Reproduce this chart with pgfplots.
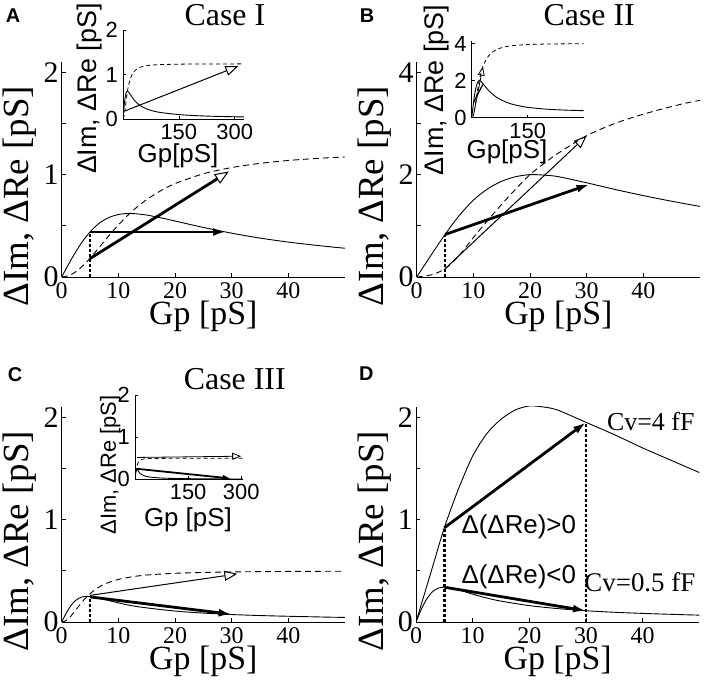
\documentclass[border=0pt]{standalone}
\usepackage{fontspec}
\setmainfont{Liberation Serif}
\setsansfont{Liberation Sans}
\usepackage{pgfplots}
\pgfplotsset{compat=1.18}
\usepackage{pgfplotstable}
\usetikzlibrary{arrows.meta}
\newcommand{\fs}[1]{\fontsize{#1}{#1}\selectfont}

\pgfplotstableread{
x re im
0 0 0
1 0.103 0.009
2 0.201 0.034
3 0.292 0.073
4 0.372 0.124
5 0.440 0.183
6 0.496 0.248
7 0.540 0.315
8 0.572 0.382
9 0.595 0.446
10 0.610 0.508
11 0.618 0.566
12 0.620 0.620
13 0.618 0.670
15 0.605 0.756
17.5 0.578 0.843
20 0.547 0.912
25 0.484 1.008
30 0.428 1.069
35 0.380 1.110
40 0.341 1.138
45 0.309 1.158
50 0.281 1.172
60 0.238 1.192
75 0.193 1.209
100 0.147 1.222
150 0.099 1.232
200 0.074 1.236
250 0.059 1.237
300 0.050 1.238
325 0.046 1.239
}\tabA

\pgfplotstableread{
x re im
0 0 0
2.5 0.42 0.04
5 0.83 0.16
7.5 1.20 0.42
10 1.50 0.77
12.5 1.72 1.10
15 1.87 1.42
17.5 1.96 1.72
20 2.00 2.00
22.5 1.99 2.22
25 1.96 2.42
30 1.84 2.76
35 1.71 3.00
40 1.59 3.18
45 1.48 3.33
50 1.38 3.45
60 1.20 3.60
75 1.00 3.75
100 0.78 3.87
125 0.65 3.92
150 0.56 3.95
200 0.46 3.98
250 0.41 3.99
300 0.38 4.00
}\tabB

\pgfplotstableread{
x re im
0 0 0
0.5 0.055 0.006
1 0.106 0.024
1.5 0.150 0.050
2 0.186 0.083
2.5 0.212 0.118
3 0.231 0.154
3.5 0.243 0.188
4 0.248 0.221
4.5 0.250 0.250
5 0.249 0.276
6 0.240 0.320
7 0.227 0.354
8 0.214 0.380
10 0.187 0.416
12.5 0.158 0.442
15 0.138 0.459
20 0.107 0.476
25 0.087 0.484
30 0.073 0.489
35 0.063 0.492
40 0.056 0.494
45 0.050 0.495
50 0.045 0.496
75 0.030 0.498
100 0.022 0.499
150 0.015 0.500
200 0.011 0.500
250 0.009 0.500
305 0.007 0.500
}\tabC

\pgfplotstableread{
x up
0 0
2.5 0.46
5 0.92
7.5 1.30
10 1.62
12.5 1.84
15 1.98
17.5 2.07
20 2.11
22.5 2.10
25 2.07
30 1.95
35 1.83
40 1.70
45 1.58
50 1.46
}\tabDu

\pgfplotstableread{
x lo
0 0
1 0.131
2 0.234
3 0.300
4 0.332
5 0.340
6 0.334
8 0.306
10 0.272
12.5 0.234
15 0.204
20 0.160
25 0.131
30 0.110
35 0.095
40 0.084
45 0.075
50 0.067
}\tabDl

\pgfplotsset{
  /pgf/number format/assume math mode=true,
  main/.style={
    scale only axis, width=283.3bp, height=215bp, anchor=south west,
    axis lines=left, axis line style={-, line width=0.8bp},
    xmin=0, xmax=50, ymin=0, ymax=2.1,
    tick align=inside, major tick length=4bp, minor tick length=4bp,
    every tick/.style={black, line width=0.7bp},
    xtick={0,10,20,30,40},
    ytick={0,1,2}, minor ytick={0.5,1.5},
    xticklabel style={font=\fs{24}, inner sep=0pt, yshift=-5bp},
    yticklabel style={font=\fs{30}, inner sep=0pt, xshift=-3bp},
    xlabel={Gp [pS]}, ylabel={ΔIm, ΔRe [pS]},
    xlabel style={font=\fs{34}, inner sep=0pt, at={(axis description cs:0.5,-0.182)}, anchor=center},
    ylabel style={font=\fs{37}, inner sep=0pt, at={(axis description cs:-0.147,0.375)}, anchor=center},
    clip mode=individual,
  },
  inset/.style={
    scale only axis, anchor=south west,
    axis lines=left, axis line style={-, line width=0.7bp},
    xmin=0, ymin=0,
    tick align=inside, major tick length=3bp,
    every tick/.style={black, line width=0.6bp},
    xticklabel style={font=\sffamily\fs{22}, inner sep=0pt, yshift=-5bp},
    yticklabel style={font=\sffamily\fs{22}, inner sep=0pt, xshift=-5bp},
    xlabel style={font=\sffamily\fs{26}, inner sep=0pt, anchor=center},
    ylabel style={font=\sffamily\fs{27}, inner sep=0pt, anchor=center},
    clip mode=individual,
  },
  solidc/.style={black, line width=0.9bp, smooth},
  dashc/.style={black, line width=0.9bp, dash pattern=on 6bp off 4bp, smooth},
  dashi/.style={black, line width=0.8bp, dash pattern=on 4bp off 3bp, smooth},
  dotv/.style={black, line width=2.5bp, dash pattern=on 2.5bp off 2.5bp},
  thickF/.style={black, line width=2.8bp, -{Latex[length=13bp,width=8bp]}},
  thickO/.style={black, line width=2.8bp, -{Triangle[open,length=14bp,width=11bp,line width=1bp]}},
  thinO/.style={black, line width=1bp, -{Triangle[open,length=13bp,width=10bp]}},
}

\begin{document}
\begin{tikzpicture}
\useasboundingbox (0,0) rectangle (708bp,694bp);

% ---------- A ----------
\begin{axis}[main, at={(61.7bp,417bp)}]
\addplot[solidc] table[x=x,y=re]{\tabA};
\addplot[dashc] table[x=x,y=im]{\tabA};
\addplot[dotv] coordinates {(5,0) (5,0.44)};
\addplot[thickF] coordinates {(5,0.44) (29,0.44)};
\addplot[thickO] coordinates {(5,0.18) (29.5,1.03)};
\node[font=\fs{32}] at (axis description cs:0.576,1.219) {Case I};
\node[font=\sffamily\bfseries\fs{20}] at (axis description cs:-0.172,1.214) {A};
\end{axis}
\begin{axis}[inset, at={(123bp,575bp)}, width=121bp, height=89bp,
  xmax=325, ymax=2, xtick={150,300}, ytick={0,1,2},
  xlabel={Gp[pS]}, ylabel={ΔIm, ΔRe [pS]},
  xlabel style={at={(axis description cs:0.455,-0.41)}},
  ylabel style={at={(axis description cs:-0.273,0.34)}}]
\addplot[solidc] table[x=x,y=re]{\tabA};
\addplot[dashi] table[x=x,y=im]{\tabA};
\addplot[thinO] coordinates {(5,0.18) (310,1.19)};
\end{axis}

% ---------- B ----------
\begin{axis}[main, at={(416.7bp,417bp)}, ymax=4.2, ytick={0,2,4}, minor ytick={1,3}]
\addplot[solidc] table[x=x,y=re]{\tabB};
\addplot[dashc] table[x=x,y=im]{\tabB};
\addplot[dotv] coordinates {(5,0) (5,0.83)};
\addplot[thickF] coordinates {(5,0.83) (30.5,1.81)};
\addplot[thinO] coordinates {(5,0.16) (30,2.76)};
\node[font=\fs{32}] at (axis description cs:0.609,1.219) {Case II};
\node[font=\sffamily\bfseries\fs{20}] at (axis description cs:-0.175,1.214) {B};
\end{axis}
\begin{axis}[inset, at={(471.7bp,576.3bp)}, width=112bp, height=77bp,
  xmax=300, ymax=4.16, xtick={150}, ytick={0,2,4},
  xlabel={Gp[pS]}, ylabel={ΔIm, ΔRe [pS]},
  xlabel style={at={(axis description cs:0.315,-0.445)}},
  ylabel style={at={(axis description cs:-0.31,0.36)}}]
\addplot[solidc] table[x=x,y=re]{\tabB};
\addplot[dashi] table[x=x,y=im]{\tabB};
\addplot[black, line width=1.2bp] coordinates {(5,0.83) (30,1.8)};
\addplot[black, line width=0.8bp, -{Triangle[open,length=9bp,width=7bp]}] coordinates {(5,0.16) (30,2.76)};
\end{axis}

% ---------- C ----------
\begin{axis}[main, at={(61.7bp,72bp)}]
\addplot[solidc] table[x=x,y=re]{\tabC};
\addplot[dashc] table[x=x,y=im]{\tabC};
\addplot[dotv] coordinates {(5,0) (5,0.25)};
\addplot[thinO] coordinates {(5,0.26) (31,0.47)};
\addplot[thickF] coordinates {(5,0.245) (30,0.075)};
\node[font=\fs{32}] at (axis description cs:0.611,1.13) {Case III};
\node[font=\sffamily\bfseries\fs{20}] at (axis description cs:-0.165,1.149) {C};
\end{axis}
\begin{axis}[inset, at={(135bp,214.7bp)}, width=108bp, height=84bp,
  xmax=305, ymax=2, xtick={150,300}, ytick={0,1,2},
  xlabel={Gp [pS]}, ylabel={ΔIm, ΔRe [pS]},
  xlabel style={at={(axis description cs:0.49,-0.485)}},
  ylabel style={font=\sffamily\fs{22}, at={(axis description cs:-0.23,0.17)}}]
\addplot[solidc] table[x=x,y=re]{\tabC};
\addplot[dashi] table[x=x,y=im]{\tabC};
\addplot[black, line width=0.8bp, -{Triangle[open,length=9bp,width=7bp]}] coordinates {(5,0.52) (300,0.55)};
\addplot[black, line width=1.8bp, -{Latex[length=8bp,width=6bp]}] coordinates {(5,0.25) (270,0.02)};
\end{axis}

% ---------- D ----------
\begin{axis}[main, at={(416bp,72bp)}]
\addplot[solidc] table[x=x,y=up]{\tabDu};
\addplot[solidc] table[x=x,y=lo]{\tabDl};
\addplot[dotv] coordinates {(5,0) (5,0.92)};
\addplot[dotv] coordinates {(30,0) (30,1.95)};
\addplot[thickF] coordinates {(5,0.92) (30,1.95)};
\addplot[thickF] coordinates {(5,0.34) (30,0.11)};
\node[font=\fs{26}, anchor=west, inner sep=0pt] at (axis cs:33.7,1.96) {Cv=4 fF};
\node[font=\fs{27}, anchor=west, inner sep=0pt] at (axis cs:29.7,0.39) {Cv=0.5 fF};
\node[font=\sffamily\fs{26}, anchor=west, inner sep=0pt] at (axis cs:8,0.93) {Δ(ΔRe)>0};
\node[font=\sffamily\fs{26}, anchor=west, inner sep=0pt] at (axis cs:8,0.44) {Δ(ΔRe)<0};
\node[font=\sffamily\bfseries\fs{20}] at (axis description cs:-0.175,1.153) {D};
\end{axis}
\end{tikzpicture}
\end{document}
